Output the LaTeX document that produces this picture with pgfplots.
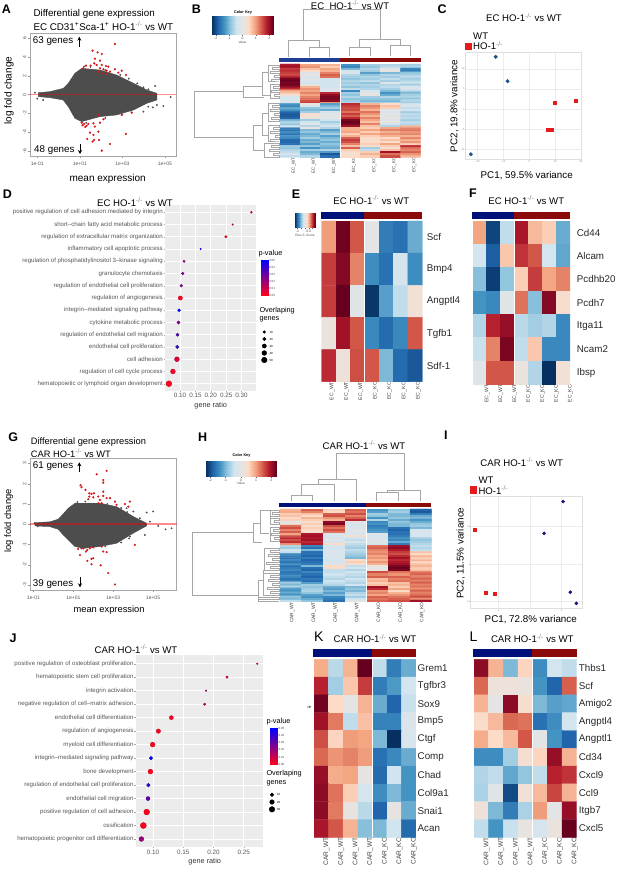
\documentclass[border=0pt]{standalone}
\usepackage{fontspec}
\setmainfont{Liberation Sans}
\usepackage{pgfplots}
\usepackage{pgfplotstable}
\pgfplotsset{compat=1.18}
\usetikzlibrary{arrows.meta}

% heatmap values, one cell per entry, read row by row
\pgfplotstableread[row sep=\\]{v\\
1.6\\ .8\\ .7\\ -1.2\\ -.7\\ -.6\\ -.7\\
1.7\\ .9\\ .5\\ -1.3\\ -.8\\ -.5\\ -.6\\
1.4\\ .6\\ .8\\ -.9\\ -.6\\ 0\\ -1.3\\
1.5\\ .4\\ .7\\ -.3\\ -.7\\ .05\\ -1.4\\
1.4\\ -.2\\ 1\\ -.2\\ -1.1\\ -.9\\ -.8\\
1.3\\ .1\\ 1.2\\ -.6\\ -.8\\ -.6\\ -.7\\
1.5\\ -.3\\ 1.1\\ -.7\\ -.6\\ -.7\\ -.5\\
1.9\\ -.1\\ -.4\\ -.8\\ -.7\\ -.5\\ -.7\\
2\\ -.2\\ -.3\\ -.6\\ -.5\\ -.7\\ -.6\\
1.9\\ -.4\\ -.4\\ -.7\\ -.8\\ -.1\\ -.4\\
1.95\\ .1\\ -.3\\ -.6\\ -.6\\ -.6\\ -.7\\
1.8\\ .7\\ -.4\\ -.8\\ -.7\\ -.5\\ -.3\\
1.5\\ .9\\ -.2\\ -.5\\ -.6\\ -.7\\ -.2\\
.8\\ .8\\ -.2\\ -1.3\\ -.3\\ -.9\\ -.5\\
.6\\ 1\\ 1.5\\ -.7\\ 0\\ -1.2\\ -.9\\
.3\\ .8\\ 1.8\\ -.8\\ .05\\ -1\\ -.7\\
-.1\\ 1\\ 1.9\\ -.6\\ -.7\\ -.6\\ -.6\\
-.4\\ 1.1\\ 1.9\\ -.8\\ -.8\\ -.8\\ -.8\\
-.3\\ 1.3\\ 1.8\\ -.7\\ -.9\\ -.9\\ -.6\\
-.2\\ 1.4\\ .9\\ -.6\\ -.7\\ -.7\\ -.7\\
-1.2\\ .1\\ -1.1\\ 1.5\\ .7\\ .4\\ -.3\\
-1.3\\ -.2\\ -.9\\ 1.4\\ 1\\ .6\\ -.2\\
-1\\ -.8\\ -.7\\ 1.3\\ .9\\ .5\\ -.5\\
-1.2\\ -.9\\ -1\\ 1.3\\ .7\\ -.1\\ -.3\\
-1.6\\ -.7\\ -.2\\ 1.1\\ 1.1\\ -.2\\ -.7\\
-1.7\\ .3\\ -.1\\ 1.4\\ .9\\ 0\\ -.5\\
-1.7\\ .2\\ -.1\\ 1.2\\ .7\\ -.1\\ -.6\\
-1.6\\ .1\\ 0\\ 1.5\\ 1\\ .1\\ -.5\\
-.9\\ -.7\\ -.4\\ 1.9\\ .8\\ -.2\\ -.7\\
-.6\\ -.4\\ -.7\\ 2\\ .6\\ .1\\ -.5\\
-.8\\ -.1\\ -.5\\ 1.9\\ 1\\ -.4\\ -.6\\
-.4\\ -.6\\ -.3\\ 1.7\\ .6\\ -.6\\ .7\\
-1.4\\ .05\\ -.6\\ .7\\ .5\\ .8\\ 1\\
-1.5\\ -.9\\ -1.1\\ .7\\ .8\\ 1\\ 1.1\\
-1.3\\ -.8\\ -.9\\ .8\\ .5\\ .7\\ .9\\
-1.5\\ -1\\ -.7\\ .5\\ .8\\ .9\\ 1\\
-1.2\\ -.9\\ -1.1\\ .7\\ .5\\ .7\\ .7\\
-1.3\\ -.7\\ -.9\\ 1.2\\ .4\\ .4\\ 1\\
-1.6\\ -1\\ -.8\\ 1.4\\ .3\\ .6\\ .7\\
-1.6\\ -.9\\ -1\\ 1.3\\ .4\\ .3\\ .9\\
-1.5\\ -1.1\\ -.8\\ 1\\ .5\\ .8\\ .5\\
-.7\\ -.8\\ -.9\\ .6\\ .3\\ .5\\ 1.5\\
-.8\\ -1.2\\ -1\\ 1.2\\ -.7\\ .3\\ 1.1\\
-.6\\ -.7\\ -.6\\ .5\\ -.5\\ .6\\ 1\\
-.5\\ -1\\ -1.1\\ .4\\ .5\\ 1.7\\ 1.2\\
-.3\\ -.9\\ -1.7\\ .2\\ .7\\ 1.1\\ .9\\
-.5\\ -.6\\ -1.5\\ .4\\ .5\\ 1.3\\ .7\\
}\tabB
\pgfplotstableread[row sep=\\]{v\\
.7\\ 1.2\\ .5\\ 1.2\\ -1.2\\ -.8\\ -1.6\\
.8\\ 1\\ .4\\ 1.1\\ -1.1\\ -.7\\ -1.7\\
.5\\ .6\\ 1.2\\ 1.3\\ -.7\\ -.9\\ -1.4\\
.6\\ .4\\ 1.3\\ 1\\ -.8\\ -.9\\ -1\\
.4\\ .7\\ .9\\ 1.2\\ -1.2\\ -.8\\ -.9\\
.5\\ .5\\ .7\\ 1.5\\ -.6\\ -1\\ -1.2\\
0\\ .3\\ 1.8\\ -.1\\ -1.3\\ -.8\\ -1\\
.1\\ .5\\ 1.9\\ -.2\\ -1.2\\ -.9\\ -.8\\
1.1\\ .3\\ 1.3\\ -.3\\ -1.4\\ -.9\\ -.7\\
1.3\\ .5\\ 1.1\\ -.2\\ -1.3\\ -1.5\\ -.9\\
1\\ .4\\ 1.3\\ -.1\\ -1.2\\ -1.6\\ -.3\\
1.2\\ .2\\ 1.1\\ -.2\\ -1.1\\ -1.5\\ -.2\\
.8\\ 1.6\\ -.2\\ -.3\\ -.1\\ -1.5\\ -.4\\
1.3\\ 1.7\\ -.2\\ .3\\ -.3\\ -1.4\\ -.3\\
1.5\\ 1.6\\ -.3\\ -.4\\ -.2\\ -1.2\\ -.7\\
1.3\\ 1.7\\ -.1\\ -.5\\ -.2\\ -1.3\\ -.8\\
1.5\\ 1.5\\ -.3\\ -.3\\ -.1\\ -1\\ -.7\\
.9\\ 1.6\\ .4\\ -.5\\ -.3\\ -1.4\\ -.6\\
-.6\\ -1.3\\ -.3\\ -.6\\ 1.1\\ 1.7\\ -.5\\
-.7\\ -1.5\\ -.4\\ -.7\\ 1.2\\ 1.8\\ -.6\\
-.4\\ -.9\\ -.3\\ -.5\\ 1\\ 1.6\\ -.5\\
-.5\\ -1.5\\ -.2\\ -.6\\ .9\\ 1.4\\ .6\\
-1.3\\ -1.5\\ -.3\\ -.7\\ 1\\ 1.3\\ .4\\
-1.4\\ -1.6\\ -.2\\ -.8\\ .8\\ 1.5\\ .7\\
-1.5\\ -1.4\\ -.3\\ -.9\\ .9\\ 1.7\\ .5\\
-1.3\\ -1.6\\ -.4\\ .4\\ .7\\ 1.5\\ .7\\
-1.5\\ -1.5\\ -.2\\ .5\\ .9\\ 1.6\\ .4\\
-1.2\\ -1.4\\ -.3\\ .3\\ .7\\ 1.7\\ .6\\
-1.5\\ -.9\\ .4\\ -.5\\ .1\\ 1.9\\ .7\\
-1.4\\ -1.5\\ .3\\ -.4\\ -.05\\ 2\\ .5\\
-1.3\\ -1.6\\ -.5\\ -.6\\ .1\\ 1.9\\ .6\\
-1.5\\ -1.3\\ -.5\\ -.4\\ 1.3\\ 1.1\\ 1.1\\
-1.4\\ -1.5\\ -.4\\ -.5\\ 1\\ .9\\ 1.2\\
-1.3\\ -1.6\\ -.5\\ -.6\\ 1.2\\ 1.2\\ 1\\
-1.5\\ -1.4\\ -.6\\ -.4\\ .6\\ 1\\ 1.2\\
-1.4\\ -1.5\\ -.4\\ -.5\\ .7\\ 1.1\\ 1\\
-.7\\ -1.1\\ -.5\\ -.6\\ .5\\ .6\\ 1.2\\
-.9\\ -.7\\ -.6\\ -.4\\ .6\\ .7\\ 1\\
-.6\\ -.8\\ -1\\ -.9\\ 1.7\\ .5\\ 1.1\\
-1.1\\ -.7\\ -1.1\\ -.8\\ 1.5\\ .8\\ .9\\
-1.2\\ -.6\\ -.9\\ -.9\\ .9\\ .4\\ 1.2\\
-1\\ -.8\\ -1.1\\ -.6\\ 1\\ .7\\ 1\\
-1.2\\ -1.1\\ -.9\\ -.5\\ .8\\ .9\\ 1.1\\
-.8\\ -1.2\\ -1.3\\ -.7\\ 1.2\\ 1.1\\ 1.3\\
-.9\\ -1\\ -1.4\\ -.4\\ 1.1\\ 1.2\\ .9\\
-.5\\ -.8\\ -1.5\\ -.1\\ 1.2\\ 1.3\\ 1.7\\
}\tabH
\pgfplotstableread[row sep=\\]{v\\
.85\\ 1.95\\ 1.25\\ -.05\\ -1.4\\ -1.5\\ -1\\
1.4\\ 1.85\\ 1\\ -1.25\\ -1.5\\ -.3\\ -1.25\\
1.4\\ 2\\ -.1\\ -1.95\\ -1.1\\ -.5\\ .2\\
.1\\ 1.7\\ 1.25\\ -1.3\\ -1.55\\ -1.3\\ 1.25\\
1.5\\ .15\\ 1.3\\ 1.25\\ -.9\\ -1.55\\ -1.7\\
}\tabE
\pgfplotstableread[row sep=\\]{v\\
.8\\ -1.85\\ -.5\\ 1.65\\ .65\\ .5\\ -1\\
-.35\\ -1.65\\ .55\\ 1.45\\ 1.25\\ -.35\\ -1.05\\
-.85\\ -1.9\\ -.8\\ .5\\ 1.4\\ .8\\ 1\\
-1.2\\ -1.3\\ -.1\\ 1.1\\ -.85\\ 1.85\\ .3\\
-.6\\ 1.55\\ 1.75\\ -.55\\ -.7\\ -.6\\ -1.3\\
-.45\\ 1\\ 1.9\\ -.5\\ .55\\ -1.3\\ -1.3\\
-.1\\ 1.25\\ 1.25\\ .1\\ -.6\\ -2\\ .2\\
}\tabF
\pgfplotstableread[row sep=\\]{v\\
.75\\ -.55\\ .7\\ 2\\ -.5\\ -1.4\\ -1\\
1.55\\ -.7\\ .55\\ 1.4\\ -1.4\\ -1.15\\ -.35\\
1.95\\ .4\\ 0\\ .7\\ -1\\ -1.6\\ -.45\\
1.7\\ 1.05\\ -.5\\ .6\\ -1.35\\ -1.35\\ -.2\\
1.3\\ .45\\ .85\\ .8\\ -.9\\ -2.1\\ -.25\\
1.15\\ .9\\ 1\\ .85\\ -1.5\\ -1.3\\ -1\\
1.75\\ .75\\ .8\\ .05\\ -1.55\\ -.4\\ -1.2\\
1.8\\ 1.1\\ .5\\ -.3\\ -1.25\\ -.9\\ -1.2\\
1.8\\ 1.05\\ .05\\ -.55\\ -1.6\\ .05\\ -1\\
1.65\\ 1.25\\ .7\\ -.85\\ -.9\\ -.4\\ -1.55\\
}\tabK
\pgfplotstableread[row sep=\\]{v\\
1.8\\ .7\\ -.9\\ .45\\ -1.25\\ -.35\\ -.5\\
1.15\\ .15\\ .15\\ .1\\ -1.2\\ -1.6\\ 1.2\\
.7\\ 0\\ 1.8\\ .3\\ -.9\\ -1.1\\ -1.05\\
.35\\ .65\\ 1.15\\ 1.1\\ -1.5\\ -1.25\\ -.35\\
.75\\ .4\\ .65\\ 1.25\\ -.05\\ -1.2\\ -1.6\\
-1.25\\ -1.25\\ -.7\\ .25\\ .45\\ 1.75\\ .7\\
-.6\\ -.5\\ -1.05\\ -.8\\ -.5\\ 1.55\\ 1.45\\
-.65\\ -.1\\ -1.8\\ .2\\ .65\\ 1.35\\ .7\\
.15\\ -.9\\ -1.4\\ -.65\\ .85\\ -.05\\ 1.75\\
-.5\\ -1.2\\ -.45\\ .05\\ -.3\\ .1\\ 2\\
}\tabL

\definecolor{ragrey}{HTML}{4D4D4D}
\definecolor{tickgrey}{HTML}{555555}
\definecolor{rared}{HTML}{D7191C}
\definecolor{dotblue}{HTML}{1F4E8C}
\definecolor{dotnavy}{HTML}{14147A}
\definecolor{pcared}{HTML}{E41A1C}
\definecolor{barblue}{HTML}{1F3F95}
\definecolor{barnavy}{HTML}{00107A}
\definecolor{barred}{HTML}{8B0A0A}

\newcommand{\fs}[1]{\fontsize{#1}{#1}\selectfont}
\newcommand{\ko}{\textsuperscript{\color{gray}-/-}}
\newcommand{\T}[5]{\node[anchor=#3,font=\fs{#4},inner sep=0pt] at (axis cs:#1,#2) {#5};}

\pgfplotsset{
  scale only axis,
  colormap={rdbu}{
    rgb255=(5,48,97) rgb255=(33,102,172) rgb255=(67,147,195) rgb255=(146,197,222)
    rgb255=(209,229,240) rgb255=(228,228,228) rgb255=(253,219,199) rgb255=(244,165,130)
    rgb255=(214,96,77) rgb255=(178,24,43) rgb255=(103,0,31)},
  colormap={pv}{rgb255=(255,0,30) rgb255=(0,0,255)},
  % places an axis by its box in pixels of the reference: left,top,right,bottom
  box/.code args={#1,#2,#3,#4}{%
    \pgfmathsetmacro\bw{#3-#1}\pgfmathsetmacro\bh{#4-#2}\pgfmathsetmacro\by{886-#4}%
    \edef\tmp{\noexpand\pgfplotsset{at={(#1pt,\by pt)},anchor=south west,width=\bw pt,height=\bh pt}}\tmp},
  xl/.style args={#1,#2,#3}{xlabel={#3},xlabel style={at={(axis description cs:#1,#2)},anchor=center,inner sep=0pt}},
  yl/.style args={#1,#2,#3}{ylabel={#3},ylabel style={at={(axis description cs:#1,#2)},anchor=center,inner sep=0pt}},
  ma/.style={
    axis line style={draw=gray!70,line width=.8pt},
    tick style={draw=gray!80,line width=.4pt},
    major tick length=2pt, tick align=outside, xtick pos=lower, ytick pos=left,
    xtick={-1,1,3,5}, xticklabels={1e-01,1e+01,1e+03,1e+05},
    xticklabel style={font=\fs{5},text=tickgrey},
    yticklabel style={font=\fs{5},text=tickgrey,rotate=90,anchor=south,inner sep=1.5pt},
    /pgf/number format/assume math mode=true,
    label style={font=\fs{10}},
  },
  pca/.style={
    axis line style={draw=gray!25,line width=.5pt},
    grid=major, grid style={draw=gray!15,line width=.4pt},
    tick style={draw=gray!50,line width=.3pt},
    major tick length=.6pt, tick align=outside, xtick pos=lower, ytick pos=left,
    tick label style={font=\fs{2.6},text=gray,inner sep=.3pt},
    /pgf/number format/assume math mode=true,
    label style={font=\fs{9.8}},
  },
  dots/.style={
    axis background/.style={fill=gray!15},
    axis line style={draw=none},
    grid=major, grid style={draw=white,line width=.6pt},
    tick style={draw=gray!70,line width=.3pt},
    major tick length=1.2pt, tick align=outside, xtick pos=lower, ytick pos=left,
    y dir=reverse, colormap name=pv, point meta min=0, point meta max=.05,
    yticklabel style={font=\fs{6.1},text=tickgrey,inner sep=.8pt},
    xticklabel style={font=\fs{6.3},text=tickgrey,inner sep=1.5pt},
    scaled x ticks=false,
    /pgf/number format/assume math mode=true,
    /pgf/number format/fixed, /pgf/number format/fixed zerofill, /pgf/number format/precision=2,
    label style={font=\fs{7.3},text=black!80},
  },
  heat/.style={
    colormap name=rdbu, point meta min=-2, point meta max=2,
    xmin=-.5, xmax=6.5, y dir=reverse, axis line style={draw=none},
    major tick length=0pt, xtick={0,...,6}, yticklabel pos=right,
    xticklabel style={rotate=90,anchor=east,inner sep=0pt},
    yticklabel style={inner sep=0pt,font=\fs{9.8},text=black!85},
    tick align=outside,
  },
  eclabels/.style={xticklabels={EC\_WT,EC\_WT,EC\_WT,EC\_KO,EC\_KO,EC\_KO,EC\_KO}},
  carlabels/.style={xticklabels={CAR\_WT,CAR\_WT,CAR\_WT,CAR\_WT,CAR\_KO,CAR\_KO,CAR\_KO}},
  key/.style={
    colormap name=rdbu, ytick=\empty, axis line style={draw=none},
    ymin=0, ymax=1, major tick length=1pt, tick align=outside,
    xtick pos=lower, tick style={draw=black!60,line width=.2pt},
    xticklabel style={font=\fs{3.4},text=black!70,inner sep=.8pt},
    xlabel style={font=\fs{3.2},text=black!70,inner sep=.5pt},
    /pgf/number format/assume math mode=true,
  },
  pbar/.style={
    colormap name=pv, point meta min=0, point meta max=.05,
    xmin=0, xmax=1, ymin=0, ymax=.05, xtick=\empty, ytick={0,.01,.02,.03,.04,.05},
    yticklabels={0.00,0.01,0.02,0.03,0.04,0.05}, yticklabel pos=right,
    scaled y ticks=false,
    axis line style={draw=none}, major tick length=0pt,
    yticklabel style={font=\fs{3},text=black!70,inner sep=1pt},
  },
  cell/.style={matrix plot*,mesh/cols=7,point meta=explicit},
  colcut/.style={draw=white,line width=1pt,no markers},
  dendro/.style={draw=gray!70,line width=.55pt,no markers,forget plot},
  bar/.style={draw=none,fill=#1,no markers,forget plot},
  dots legend/.style={only marks,mark=*,black,mark size=#1,forget plot},
}
\newcommand{\hm}[1]{\addplot[cell] table[x index=0,y index=0,meta index=0,
  x expr={\coordindex-7*floor((\coordindex+.5)/7)},y expr={floor((\coordindex+.5)/7)}] {#1};}
\newcommand{\dotrows}[1]{\addplot[scatter,only marks,mark=*,scatter src=\thisrow{p},
  visualization depends on={\thisrow{r}\as\rr},
  scatter/@pre marker code/.append style={/tikz/mark size=\rr}] table[x=ratio,y=row] {#1};}

\begin{document}
\begin{tikzpicture}[x=1pt,y=1pt]
\path[use as bounding box] (0,0) rectangle (617,886);

% A: x is log10 of the mean expression
\begin{axis}[box={30,33.3,176,156},ma,xmin=-1.34,xmax=5.52,ymin=-6.53,ymax=6.53,
  ytick={-6,-4,-2,0,2,4,6},xl={.532,-.187,mean expression},yl={-.144,.532,log fold change}]
\addplot[fill=ragrey,draw=ragrey,no markers] coordinates {
  (-.95,.21)(-.40,.32)(.22,.67)(.46,1.21)(.77,2.27)(1.09,2.8)(1.95,2.62)(2.73,2.09)(3.52,1.21)(4.15,.5)(4.62,.14)
  (4.62,-.57)(4.15,-.92)(3.52,-1.63)(2.73,-2.16)(1.95,-2.34)(1.09,-2.87)(.77,-2.52)(.46,-1.28)(.22,-.57)(-.40,-.32)(-.95,-.21)} --cycle;
\addplot[only marks,mark=*,mark size=.7pt,ragrey] coordinates {
  (4.54,.92)(4.22,.57)(3.99,.78)(3.83,.5)(5.27,-.25)(4.93,-1.21)(4.62,-1.1)(4.43,-1.35)(4.22,-1.28)(3.99,-1.81)
  (-1.11,.21)(-1,-.43)(-.72,-.57)(1.2,3)(1.5,2.95)(2.2,2.6)(2.9,2.1)(3.3,1.7)(3.7,1.2)(1.3,-3)(2.2,-2.5)(3,-2.1)(3.4,-1.7)};
\addplot[only marks,mark=*,mark size=.9pt,rared,mark options={draw=none}] coordinates {
  (2.65,5.39)(1.6,4.68)(1.84,4.5)(2.03,4.33)(1.71,3.83)(1.95,3.62)(1.29,3.09)(1.51,3.09)(1.68,3.33)(1.79,3.16)
  (2.03,3.16)(2.23,3.05)(2.34,2.98)(1.95,2.8)(2.11,2.7)(2.26,2.55)(2.42,2.45)(2.65,2.7)(2.81,2.34)(2.97,2.55)
  (3.17,2.09)(1.16,2.8)(1.87,2.45)(2.03,2.27)(2.26,2.2)
  (1.09,-2.98)(1.2,-3.12)(1.32,-3.33)(1.13,-3.26)(1.26,-3.44)(1.4,-3.12)(1.64,-3.05)(1.87,-2.16)(1.71,-3.4)(1.95,-2.98)
  (2.11,-2.62)(2.97,-2.16)(3.44,-1.91)(1.48,-4.04)(1.64,-4.29)(1.87,-3.94)(1.35,-4.72)(1.6,-5)(1.9,-4.82)(1.67,-4.82)
  (2.42,-5.25)(2.03,-5.96)(3.16,-4.18)};
\addplot[red,opacity=.45,line width=1.5pt,no markers] coordinates {(-1.34,0)(5.52,0)};
\end{axis}

% G
\begin{axis}[box={30,458.3,176.7,590},ma,xmin=-1.18,xmax=6.19,ymin=-3.25,ymax=3.26,
  ytick={-3,-2,-1,0,1,2,3},xl={.539,-.152,mean expression},yl={-.145,.524,log fold change},
  label style={font=\fs{9.3}}]
\addplot[fill=ragrey,draw=ragrey,no markers] coordinates {
  (-.93,.08)(-.18,.12)(.24,.25)(.49,.51)(.74,.79)(1.08,1.04)(2.33,1.04)(3.17,.87)(4.01,.38)(4.68,.05)
  (4.68,-.08)(4.01,-.44)(3.17,-.94)(2.33,-1.1)(1.5,-1.19)(1.08,-1.1)(.74,-.77)(.49,-.53)(.24,-.25)(-.18,-.12)(-.93,-.08)} --cycle;
\addplot[only marks,mark=*,mark size=.7pt,ragrey] coordinates {
  (5.01,.63)(4.68,.58)(4.34,.3)(4.85,.13)(5.26,-.08)(5.63,-.25)(5.93,-.2)(4.59,-.53)(4.18,-.28)(3.84,-.61)(3.67,.79)(4.01,.63)
  (-.95,.05)(-.8,-.1)(1.2,1.1)(1.6,1.12)(2.7,1)(3.4,.8)(3.7,.6)(1.4,-1.2)(2.6,-1.1)(3.4,-.9)(3.8,-.7)};
\addplot[only marks,mark=*,mark size=.9pt,rared,mark options={draw=none}] coordinates {
  (2.67,2.64)(2.17,2.47)(2.5,2.19)(2.5,2.06)(1.36,1.93)(1.41,1.83)(1.61,1.7)(2.5,1.61)(1.8,1.53)(1.91,1.5)
  (2.03,1.53)(1.8,1.37)(2,1.33)(2.5,1.4)(2.67,1.29)(2.84,1.29)(1.75,1.24)(2.25,1.37)(2.33,1.2)(3.09,1.12)
  (3.84,1.12)(3.59,1)(2.25,1.04)(2.42,1.04)(3.17,.96)(3.76,.87)
  (1.24,-1.22)(1.5,-1.19)(1.7,-1.27)(1.83,-1.19)(2,-1.14)(2.42,-1.1)(2.5,-1.35)(2.67,-1.38)(4.09,-1.02)(1.33,-1.52)
  (1.63,-1.35)(2,-1.68)(1.91,-1.71)(1.7,-1.81)(1.91,-1.98)(2.37,-2.03)(2.75,-2.41)(3.09,-2.98)};
\addplot[red,opacity=.45,line width=1.5pt,no markers] coordinates {(-1.18,0)(6.19,0)};
\end{axis}

% C
\begin{axis}[box={465.7,52.3,581.7,159.3},pca,xmin=-24.6,xmax=20.3,ymin=-12.4,ymax=14.1,
  xtick={-20,-10,0,10,20},ytick={-10,-5,0,5,10},
  xl={.526,-.153,{PC1, 59.5\% variance}},yl={-.098,.498,{PC2, 19.8\% variance}}]
\addplot[only marks,mark=*,mark size=1.8pt,dotblue] coordinates {(-13,12.98)(-8.4,6.94)(-22.6,-11.16)};
\addplot[only marks,mark=square*,mark size=1.6pt,pcared] coordinates {(9.9,1.65)(18.1,2.07)(7.1,-5.12)(8.6,-5.04)};
\end{axis}

% I
\begin{axis}[box={470,496.7,582.7,608.3},pca,xmin=-18.9,xmax=16.7,ymin=-5.94,ymax=9,
  xtick={-10,0,10},ytick={-5,0,5},xticklabels={-1,,1},yticklabels={-1,,1},
  xl={.539,-.097,{PC1, 72.8\% variance}},yl={-.083,.493,{PC2, 11.5\% variance}}]
\addplot[only marks,mark=*,mark size=1.6pt,dotnavy] coordinates {(10.5,8.35)(4.5,4.1)(12.8,-3.79)(14.7,-5.27)};
\addplot[only marks,mark=square*,mark size=1.5pt,pcared] coordinates {(-17.4,4.55)(-14.1,-3.84)(-11.2,-4.02)};
\end{axis}

% D
\begin{axis}[box={165,205,255.7,390.7},dots,xmin=.0513,xmax=.3458,ymin=.404,ymax=15.57,
  xtick={.1,.15,.2,.25,.3},ytick={1,...,15},
  yticklabels={positive regulation of cell adhesion mediated by integrin,
    short--chain fatty acid metabolic process,regulation of extracellular matrix organization,
    inflammatory cell apoptotic process,regulation of phosphatidylinositol 3--kinase signaling,
    granulocyte chemotaxis,regulation of endothelial cell proliferation,regulation of angiogenesis,
    integrin--mediated signaling pathway,cytokine metabolic process,regulation of endothelial cell migration,
    endothelial cell proliferation,cell adhesion,regulation of cell cycle process,
    hematopoietic or lymphoid organ development},
  xl={.504,-.079,gene ratio}]
\pgfplotstableread{
ratio row p r
.3316 1 .005 1
.271 2 .01 .8
.249 3 0 1.2
.167 4 .05 .8
.113 5 .02 1.2
.109 6 .025 1.3
.104 7 .025 1.4
.101 8 0 2.1
.097 9 .05 1.4
.095 10 .025 1.6
.092 11 .035 1.6
.091 12 .04 1.7
.09 13 .005 2.4
.077 14 .002 2.4
.064 15 0 2.9
}\tabD
\dotrows{\tabD}
\end{axis}

% J
\begin{axis}[box={135.7,655,263.3,846.7},dots,xmin=.0713,xmax=.2825,ymin=.355,ymax=14.57,
  xtick={.1,.15,.2,.25},ytick={1,...,14},
  yticklabels={positive regulation of osteoblast proliferation,hematopoietic stem cell proliferation,
    integrin activation,negative regulation of cell--matrix adhesion,endothelial cell differentiation,
    regulation of angiogenesis,myeloid cell differentiation,integrin--mediated signaling pathway,
    bone development,regulation of endothelial cell proliferation,endothelial cell migration,
    positive regulation of cell adhesion,ossification,hematopoietic progenitor cell differentiation},
  xl={.541,-.078,gene ratio}]
\pgfplotstableread{
ratio row p r
.2725 1 .005 .8
.2224 2 .005 1.2
.1877 3 .02 .8
.1854 4 .01 1.2
.1303 5 0 2
.1088 6 0 2.2
.0994 7 0 2.4
.0967 8 .05 1.7
.0956 9 0 2.4
.0923 10 .04 1.8
.0917 11 .03 2
.0895 12 0 2.9
.084 13 0 3
.0807 14 .02 2.4
}\tabJ
\dotrows{\tabJ}
\end{axis}

% big heatmaps
\begin{axis}[box={280,64,420.7,157.3},heat,ymin=-.5,ymax=46.5,ytick=\empty,
  eclabels,xticklabel style={font=\fs{4.5},yshift=-3.7pt,text=black!75}]
\hm{\tabB}
\addplot[colcut] coordinates {(2.5,-.5)(2.5,46.5)};
\end{axis}
\begin{axis}[box={280,509,431.7,602},heat,ymin=-.5,ymax=45.5,ytick=\empty,
  carlabels,xticklabel style={font=\fs{4.9},yshift=-1.4pt,text=black!75}]
\hm{\tabH}
\addplot[colcut] coordinates {(3.5,-.5)(3.5,45.5)};
\end{axis}

% E F K L
\begin{axis}[box={321.7,221,422.3,381.7},heat,ymin=-.5,ymax=4.5,ytick={0,...,4},
  yticklabels={Scf,Bmp4,Angptl4,Tgfb1,Sdf-1},yticklabel style={xshift=4.4pt},
  eclabels,xticklabel style={font=\fs{5.2},yshift=-3.3pt,text=black!75}]
\hm{\tabE}
\addplot[colcut] coordinates {(2.5,-.5)(2.5,4.5)};
\end{axis}
\begin{axis}[box={472.7,221,570,384.3},heat,ymin=-.5,ymax=6.5,ytick={0,...,6},
  yticklabels={Cd44,Alcam,Pcdhb20,Pcdh7,Itga11,Ncam2,Ibsp},yticklabel style={xshift=6.7pt},
  eclabels,xticklabel style={font=\fs{5.2},yshift=-7.3pt,text=black!75}]
\hm{\tabF}
\addplot[colcut] coordinates {(2.5,-.5)(2.5,6.5)};
\end{axis}
\begin{axis}[box={314,659.3,416,837.3},heat,ymin=-.5,ymax=9.5,ytick={0,...,9},
  yticklabels={Grem1,Tgfbr3,Sox9,Bmp5,Ctgf,Comp,Chad,Col9a1,Snai1,Acan},yticklabel style={xshift=1.5pt},
  carlabels,xticklabel style={font=\fs{6.6},yshift=-5.3pt,text=black!75}]
\hm{\tabK}
\addplot[colcut] coordinates {(3.5,-.5)(3.5,9.5)};
\end{axis}
\begin{axis}[box={474,659.3,576.7,837.3},heat,ymin=-.5,ymax=9.5,ytick={0,...,9},
  yticklabels={Thbs1,Scf,Amigo2,Angptl4,Angptl1,Cd34,Cxcl9,Ccl9,Itgb7,Cxcl5},yticklabel style={xshift=2pt},
  carlabels,xticklabel style={font=\fs{6.6},yshift=-5.3pt,text=black!75}]
\hm{\tabL}
\addplot[colcut] coordinates {(3.5,-.5)(3.5,9.5)};
\end{axis}

% colour keys
\begin{axis}[box={211.7,16,273.3,35},key,point meta min=-2.3,point meta max=2.3,xmin=-2.3,xmax=2.3,
  xtick={-2,-1,0,1,2},xlabel={Value}]
\addplot[patch,patch type=rectangle,shader=interp,point meta=x] coordinates {(-2.3,0)(2.3,0)(2.3,1)(-2.3,1)};
\end{axis}
\begin{axis}[box={205.7,461,276,476.7},key,point meta min=-2.3,point meta max=2.3,xmin=-2.3,xmax=2.3,
  xtick={-2,-1,0,1,2},xlabel={Value}]
\addplot[patch,patch type=rectangle,shader=interp,point meta=x] coordinates {(-2.3,0)(2.3,0)(2.3,1)(-2.3,1)};
\end{axis}
\begin{axis}[box={295,213,315,228},key,point meta min=-1.33,point meta max=1.33,xmin=-1.33,xmax=1.33,
  xtick={-1,-.5,0,.5,1},xticklabels={-1,,,0.5,},xlabel={Row Z--Score}]
\addplot[patch,patch type=rectangle,shader=interp,point meta=x] coordinates {(-1.33,0)(1.33,0)(1.33,1)(-1.33,1)};
\end{axis}
\begin{axis}[box={260.7,260,268,295.3},pbar]
\addplot[patch,patch type=rectangle,shader=interp,point meta=y] coordinates {(0,0)(1,0)(1,.05)(0,.05)};
\end{axis}
\begin{axis}[box={270,728,277.3,764.3},pbar]
\addplot[patch,patch type=rectangle,shader=interp,point meta=y] coordinates {(0,0)(1,0)(1,.05)(0,.05)};
\end{axis}

% one axis over the whole page, in reference pixels: dendrograms, bars, arrows, titles
\begin{axis}[box={0,0,617,886},hide axis,xmin=0,xmax=617,ymin=0,ymax=886,y dir=reverse,clip=false]
% top bars
\addplot[bar=barblue] coordinates {(279,57.7)(339.5,57.7)(339.5,62.3)(279,62.3)} --cycle;
\addplot[bar=barred] coordinates {(339.5,57.7)(420.5,57.7)(420.5,62.3)(339.5,62.3)} --cycle;
\addplot[bar=barnavy] coordinates {(279.3,502.7)(366,502.7)(366,507.3)(279.3,507.3)} --cycle;
\addplot[bar=barred] coordinates {(366,502.7)(431,502.7)(431,507.3)(366,507.3)} --cycle;
\addplot[bar=barnavy] coordinates {(321,212)(364,212)(364,219)(321,219)} --cycle;
\addplot[bar=barred] coordinates {(364,212)(422,212)(422,219)(364,219)} --cycle;
\addplot[bar=barnavy] coordinates {(471.7,211.7)(514,211.7)(514,218.5)(471.7,218.5)} --cycle;
\addplot[bar=barred] coordinates {(514,211.7)(570,211.7)(570,218.5)(514,218.5)} --cycle;
\addplot[bar=barnavy] coordinates {(313,649)(371.7,649)(371.7,656.7)(313,656.7)} --cycle;
\addplot[bar=barred] coordinates {(371.7,649)(416,649)(416,656.7)(371.7,656.7)} --cycle;
\addplot[bar=barnavy] coordinates {(472.7,649)(531.7,649)(531.7,656.7)(472.7,656.7)} --cycle;
\addplot[bar=barred] coordinates {(531.7,649)(576.7,649)(576.7,656.7)(531.7,656.7)} --cycle;
% B, column tree
\addplot[dendro] coordinates {(288.3,57)(288.3,40)(319.3,40)(319.3,47)(309,47)(309,57)};
\addplot[dendro] coordinates {(319.3,47)(329.7,47)(329.7,57)};
\addplot[dendro] coordinates {(303.3,40)(303.3,9)(380.3,9)(380.3,39.3)};
\addplot[dendro] coordinates {(349.6,56)(349.6,47)(370,47)(370,56)};
\addplot[dendro] coordinates {(359.3,47)(359.3,39.3)(400.7,39.3)(400.7,45)};
\addplot[dendro] coordinates {(390,56)(390,45)(410.7,45)(410.7,56)};
% B, row tree
\addplot[dendro] coordinates {(243.3,91.7)(194.3,91.7)(194.3,137)(253.3,137)};
\addplot[dendro] coordinates {(262,86)(243.3,86)(243.3,97.3)(264,97.3)};
\addplot[dendro] coordinates {(262,125)(253.3,125)(253.3,150)(262,150)};
\addplot[dendro] coordinates {(268,72)(262,72)(262,95)(270,95)};
\addplot[dendro] coordinates {(268,65)(279,65)(279,67)(272,67)(272,69)(279,69)(279,71)(270,71)(270,73)(279,73)(279,75)(274,75)(274,77)(279,77)(279,79)(271,79)(271,81)(279,81)(268,81)(268,65)};
\addplot[dendro] coordinates {(270,84)(279,84)(279,86)(273,86)(273,88)(279,88)(279,90)(271,90)(271,92)(279,92)(279,94)(274,94)(274,96)(279,96)(279,98)(270,98)(270,84)};
\addplot[dendro] coordinates {(268,113)(262,113)(262,135)(268,135)};
\addplot[dendro] coordinates {(268,103)(279,103)(279,105)(272,105)(272,107)(279,107)(279,109)(270,109)(270,111)(279,111)(279,113)(274,113)(274,115)(279,115)(279,117)(271,117)(271,119)(279,119)(279,121)(268,121)(268,103)};
\addplot[dendro] coordinates {(268,125)(279,125)(279,127)(273,127)(273,129)(279,129)(279,131)(270,131)(270,133)(279,133)(279,135)(275,135)(275,137)(279,137)(279,139)(270,139)(270,141)(279,141)(268,141)(268,125)};
\addplot[dendro] coordinates {(262,150)(264,150)(264,143)(279,143)(279,145)(271,145)(271,147)(279,147)(279,149)(269,149)(269,151)(279,151)(279,153)(273,153)(273,155)(279,155)(279,157)(264,157)(264,150)};
% H, column tree
\addplot[dendro] coordinates {(290.8,501)(290.8,495)(312.5,495)(312.5,501)};
\addplot[dendro] coordinates {(301.7,495)(301.7,484.3)(334,484.3)(334,501)};
\addplot[dendro] coordinates {(317.9,484.3)(317.9,479.3)(355.8,479.3)(355.8,501)};
\addplot[dendro] coordinates {(336,479.3)(336,453.3)(404.3,453.3)(404.3,490.7)};
\addplot[dendro] coordinates {(376.7,501)(376.7,492.7)(398,492.7)(398,501)};
\addplot[dendro] coordinates {(387.3,492.7)(387.3,490.7)(420.7,490.7)(420.7,501)};
% H, row tree
\addplot[dendro] coordinates {(253.3,532.3)(192.3,532.3)(192.3,595.3)(258,595.3)};
\addplot[dendro] coordinates {(260,523.3)(253.3,523.3)(253.3,542.3)(262,542.3)};
\addplot[dendro] coordinates {(263,580)(258,580)(258,601)(279,601)};
\addplot[dendro] coordinates {(269,510)(260,510)(260,533)(269,533)};
\addplot[dendro] coordinates {(268,510)(279,510)(279,512)(272,512)(272,514)(279,514)(279,516)(270,516)(270,518)(279,518)(279,520)(274,520)(274,522)(279,522)(279,524)(270,524)(270,510)};
\addplot[dendro] coordinates {(270,527)(279,527)(279,529)(273,529)(273,531)(279,531)(279,533)(271,533)(271,535)(279,535)(279,537)(274,537)(274,539)(279,539)(279,541)(270,541)(270,527)};
\addplot[dendro] coordinates {(264,548)(279,548)(279,550)(270,550)(270,552)(279,552)(279,554)(268,554)(268,556)(279,556)(279,558)(272,558)(272,560)(279,560)(279,562)(266,562)(266,564)(279,564)(279,566)(270,566)(270,568)(279,568)(279,570)(264,570)(264,548)};
\addplot[dendro] coordinates {(263,570)(263,595)(279,595)(279,593)(270,593)(270,591)(279,591)(279,589)(267,589)(267,587)(279,587)(279,585)(272,585)(272,583)(279,583)(279,581)(268,581)(268,579)(279,579)(279,577)(270,577)(270,575)(279,575)(279,573)(263,573)};
\addplot[dendro,line width=.8pt] coordinates {(258,597)(279,597)(279,599)(258,599)};
% arrows on the MA plots
\addplot[black,line width=.7pt,-{Stealth[length=4pt,width=4pt]},forget plot,no markers] coordinates {(79.3,46.7)(79.3,36.7)};
\addplot[black,line width=.7pt,-{Stealth[length=4pt,width=4pt]},forget plot,no markers] coordinates {(80,144)(80,154)};
\addplot[black,line width=.7pt,-{Stealth[length=4pt,width=4pt]},forget plot,no markers] coordinates {(79.3,472.3)(79.3,462.3)};
\addplot[black,line width=.7pt,-{Stealth[length=4pt,width=4pt]},forget plot,no markers] coordinates {(80,577.3)(80,587.3)};
% PCA legends
\addplot[only marks,mark=square*,mark size=3pt,pcared,forget plot] coordinates {(468,46)};
\addplot[only marks,mark=square*,mark size=3.2pt,pcared,forget plot] coordinates {(473.3,489.7)};
% size legends
\addplot[dots legend=1.3pt] coordinates {(264.3,332)};
\addplot[dots legend=1.7pt] coordinates {(264.3,339)};
\addplot[dots legend=2.1pt] coordinates {(264.3,346)};
\addplot[dots legend=2.4pt] coordinates {(264.3,353)};
\addplot[dots legend=2.8pt] coordinates {(264.3,360)};
\addplot[dots legend=1.8pt] coordinates {(272,794.7)};
\addplot[dots legend=2.3pt] coordinates {(272,802)};
\addplot[dots legend=2.8pt] coordinates {(272,809.3)};
% panel letters
\T{1.7}{9.3}{west}{12.5}{\bfseries A}
\T{191.7}{9.3}{west}{12.5}{\bfseries B}
\T{437.3}{9.3}{west}{12.5}{\bfseries C}
\T{2.7}{193.7}{west}{12.5}{\bfseries D}
\T{291.7}{193.7}{west}{12.5}{\bfseries E}
\T{469}{193}{west}{12.5}{\bfseries F}
\T{8.3}{437}{west}{12.5}{\bfseries G}
\T{198}{437}{west}{12.5}{\bfseries H}
\T{444}{435}{west}{12.5}{\bfseries I}
\T{9.3}{638.3}{west}{12.5}{\bfseries J}
\T{314}{637}{west}{14}{K}
\T{469.3}{637}{west}{14}{L}
% titles
\T{33.3}{13.7}{west}{9.8}{Differential gene expression}
\T{33.3}{26}{west}{9.8}{EC CD31\textsuperscript{+}Sca-1\textsuperscript{+} HO-1\ko{} vs WT}
\T{350}{5.3}{center}{9.6}{EC\ \ HO-1\ko{} vs WT}
\T{524}{17.7}{center}{9.6}{EC HO-1\ko{} vs WT}
\T{135}{202}{center}{9.6}{EC HO-1\ko{} vs WT}
\T{371.3}{200.3}{center}{9.6}{EC HO-1\ko{} vs WT}
\T{526.3}{200.3}{center}{9.6}{EC HO-1\ko{} vs WT}
\T{30.7}{441.7}{west}{9.3}{Differential gene expression}
\T{30.7}{453.3}{west}{9.3}{CAR HO-1\ko{} vs WT}
\T{364}{445}{center}{9.6}{CAR HO-1\ko{} vs WT}
\T{521.7}{462}{center}{9.6}{CAR HO-1\ko{} vs WT}
\T{136}{649.3}{center}{9.6}{CAR HO-1\ko{} vs WT}
\T{375}{638.7}{center}{9.6}{CAR HO-1\ko{} vs WT}
\T{532.3}{638.7}{center}{9.6}{CAR HO-1\ko{} vs WT}
% annotations
\T{32.7}{40.7}{west}{9.8}{63 genes}
\T{34}{150}{west}{9.8}{48 genes}
\T{32.7}{466}{west}{9.8}{61 genes}
\T{32.7}{584}{west}{9.8}{39 genes}
\T{473}{36}{west}{9.6}{WT}
\T{473}{45.7}{west}{9.6}{HO-1\ko}
\T{478.3}{480}{west}{9.6}{WT}
\T{478.3}{490}{west}{9.6}{HO-1\ko}
% colour key captions
\T{243}{12.3}{center}{3.8}{\bfseries Color Key}
\T{241.5}{456}{center}{3.8}{\bfseries Color Key}
\T{258.3}{253.3}{west}{7.3}{p-value}
\T{266.3}{721.7}{west}{7.3}{p-value}
\T{259.3}{310.7}{west}{7.3}{Overlaping}
\T{259.3}{319.7}{west}{7.3}{genes}
\T{266.3}{774}{west}{7.3}{Overlaping}
\T{266.3}{783.3}{west}{7.3}{genes}
\T{269.3}{332}{west}{3}{10}
\T{269.3}{339}{west}{3}{20}
\T{269.3}{346}{west}{3}{30}
\T{269.3}{353}{west}{3}{40}
\T{269.3}{360}{west}{3}{50}
\T{276.7}{794.7}{west}{3}{10}
\T{276.7}{802}{west}{3}{20}
\T{276.7}{809.3}{west}{3}{30}
\T{309.3}{707.7}{center}{4}{re}
\end{axis}
\end{tikzpicture}
\end{document}
